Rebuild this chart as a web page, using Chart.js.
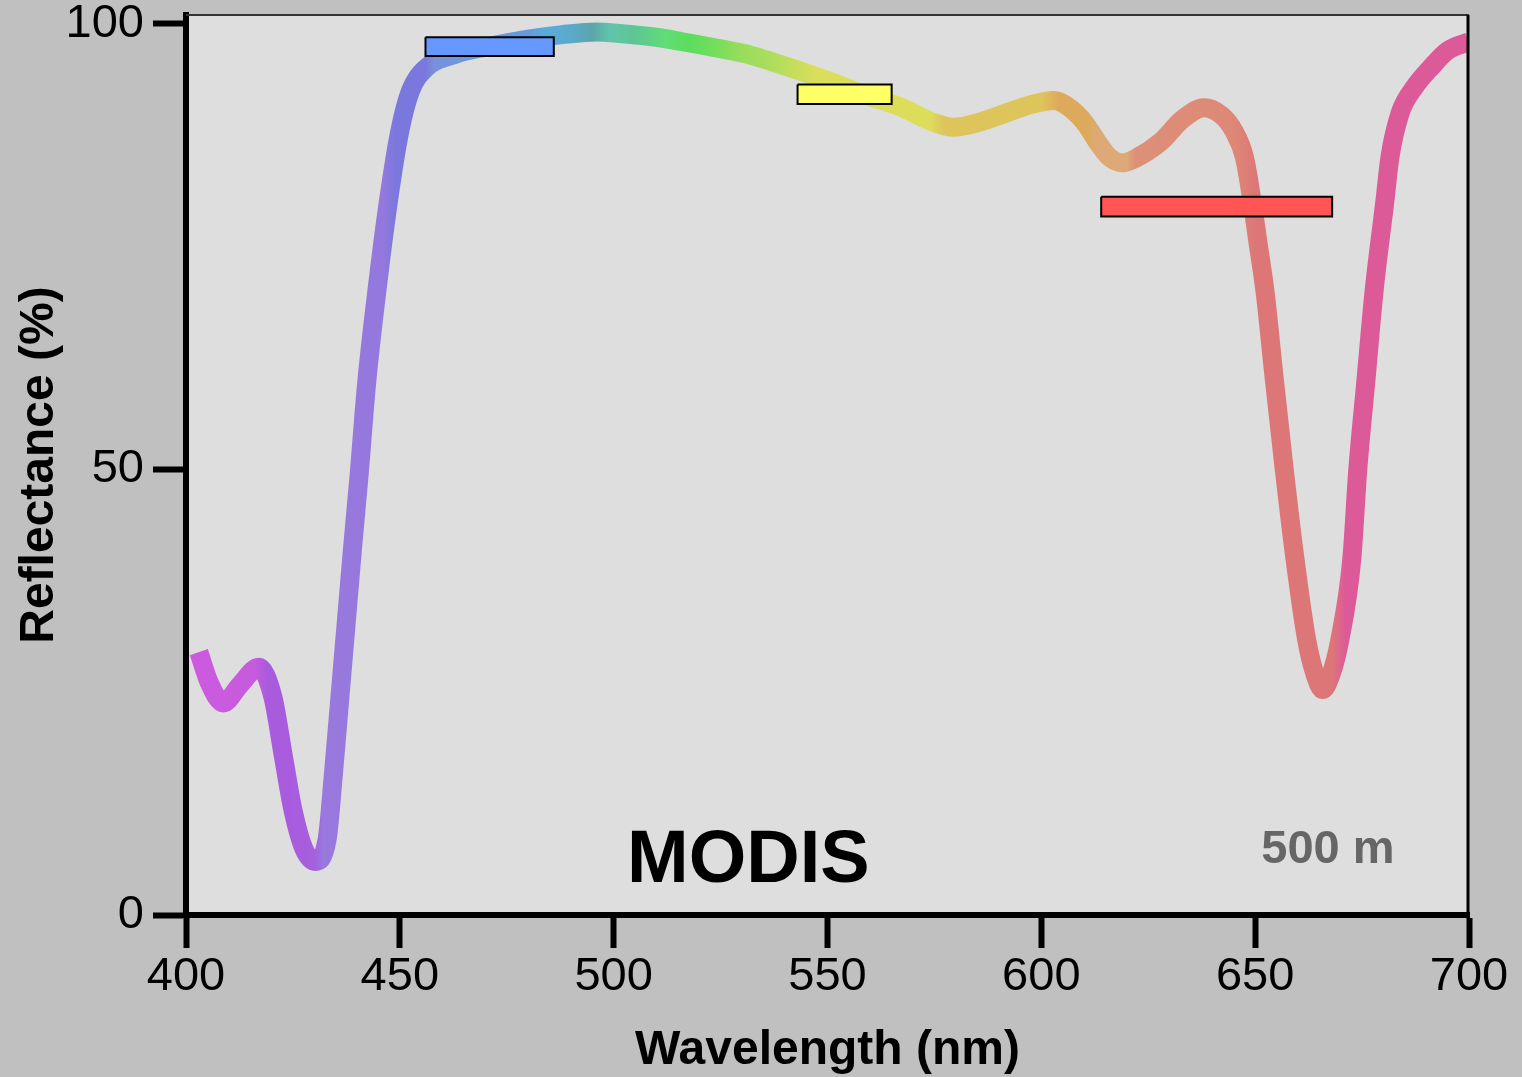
<!DOCTYPE html>
<html>
<head>
<meta charset="utf-8">
<title>MODIS reflectance</title>
<script src="https://cdn.jsdelivr.net/npm/chart.js@4.4.1/dist/chart.umd.min.js"></script>
<style>
    html, body { margin: 0; padding: 0; background: #c0c0c0; }
    canvas { display: block; }
</style>
</head>
<body>
<canvas id="myChart" width="1522" height="1077"></canvas>
<script>
// Reflectance curve (nm, %)
const wavelengths = [403, 405.5, 408.7, 412.6, 417, 420.3, 422.7, 425, 427.5, 430.2, 433, 434.5, 436, 437.5,
    439, 440.5, 442.2, 444.5, 447.3, 450, 452.5, 456, 463, 470, 480, 488, 496, 502, 510, 516, 524, 532, 538,
    545, 552, 559, 567, 575, 579.5, 585, 590, 598, 603, 606, 610, 613.5, 616, 619, 622, 628, 633, 638, 642,
    645, 647.5, 649.3, 650.8, 652.3, 654.5, 656.8, 659.3, 662, 664, 665.8, 667.6, 669.8, 672.6, 674, 675.9,
    677.8, 680.3, 681.5, 683.9, 687.4, 690.9, 695, 700];
const reflectance = [29.5, 26, 23.8, 25.8, 27.8, 24.5, 18, 11.8, 7.5, 6.0, 8.5, 16, 24.5, 33,
    41.5, 49.5, 59.5, 69.5, 80, 88, 92.5, 95, 96.6, 97.4, 98.3, 98.8, 99.1, 98.9, 98.5, 98.0, 97.3, 96.5, 95.6,
    94.5, 93.3, 92.0, 90.7, 88.9, 88.4, 88.9, 89.7, 91.0, 91.4, 90.8, 89.0, 86.5, 85.0, 84.4, 84.9, 86.8, 89.3, 90.6, 89.8,
    88.0, 85, 80, 75, 70, 60, 50, 40, 31, 27, 25.3, 26.8, 30.9, 40, 50, 60,
    70, 80, 85, 90, 93, 95, 97, 98.0];

// MODIS band boxes
const bandLabels = ['Band 3', 'Band 4', 'Band 1'];
const bandStart = [456, 543, 614];
const bandEnd = [486, 565, 668];
const bandTop = [98.5, 93.2, 80.6];
const bandBottom = [96.4, 91.0, 78.4];

const xTicks = [400, 450, 500, 550, 600, 650, 700];
const yTicks = [0, 50, 100];

const sensorName = 'MODIS';
const resolutionText = '500 m';

// styles
const bandColors = ['#6699ff', '#ffff66', '#ff5555'];
const spectrumStops = [400, 416, 419, 430, 432, 446, 449, 456, 458, 466, 480, 484, 490, 495, 499, 505, 512, 518,
    524, 530, 536, 542, 548, 574, 577, 600, 604, 611, 613, 620, 622, 645, 650, 668, 671, 700];
const spectrumColors = ['#cc5ade', '#c85ade', '#aa5add', '#a65fdd', '#9a78dd', '#9478dd', '#7a78dd', '#7a78dd',
    '#7a90dd', '#6a99dd', '#6699dd', '#5aaadd', '#5aaacc', '#5aa5aa', '#5fc5aa', '#5fc595', '#60dd77', '#5cdd5c',
    '#77dd5c', '#99dd5c', '#aadd5c', '#c5dd5c', '#dddd5c', '#dddd5c', '#ddc55c', '#ddc55c', '#ddaa5c', '#ddaa5c',
    '#ddaa77', '#ddaa77', '#dd9077', '#dd8877', '#dd7777', '#dd7777', '#dd5a99', '#dd5a99'];

const fontFamily = "'Liberation Sans', Arial, sans-serif";

// rainbow along the wavelength axis
function spectrumGradient(context) {
    const chart = context.chart;
    const { ctx, chartArea, scales } = chart;
    if (!chartArea) return '#888';
    const x0 = scales.x.getPixelForValue(400);
    const x1 = scales.x.getPixelForValue(700);
    const gradient = ctx.createLinearGradient(x0, 0, x1, 0);
    spectrumStops.forEach((w, i) => {
        gradient.addColorStop((w - 400) / 300, spectrumColors[i]);
    });
    return gradient;
}

const datasets = [
    {
        label: 'Reflectance',
        data: wavelengths.map((w, i) => ({ x: w, y: reflectance[i] })),
        borderColor: spectrumGradient,
        borderWidth: 19,
        pointRadius: 0,
        fill: false,
        cubicInterpolationMode: 'monotone',
        order: 2
    }
];

bandLabels.forEach((name, i) => {
    datasets.push({
        label: name,
        data: [
            { x: bandStart[i], y: bandTop[i] },
            { x: bandEnd[i], y: bandTop[i] },
            { x: bandEnd[i], y: bandBottom[i] },
            { x: bandStart[i], y: bandBottom[i] },
            { x: bandStart[i], y: bandTop[i] }
        ],
        borderColor: '#000',
        borderWidth: 2,
        borderJoinStyle: 'miter',
        backgroundColor: bandColors[i],
        fill: 'shape',
        tension: 0,
        pointRadius: 0,
        order: 1
    });
});

// backgrounds, frame and the two text labels
const decor = {
    id: 'decor',
    beforeDraw(chart) {
        const { ctx, chartArea } = chart;
        ctx.save();
        ctx.fillStyle = '#c0c0c0';
        ctx.fillRect(0, 0, chart.width, chart.height);
        ctx.fillStyle = '#dedede';
        ctx.fillRect(chartArea.left, chartArea.top, chartArea.right - chartArea.left, chartArea.bottom - chartArea.top);
        ctx.restore();
    },
    afterDraw(chart) {
        const { ctx, chartArea, scales } = chart;
        ctx.save();
        ctx.strokeStyle = '#333';
        ctx.lineWidth = 2;
        ctx.beginPath();
        ctx.moveTo(chartArea.left, chartArea.top);
        ctx.lineTo(chartArea.right, chartArea.top);
        ctx.stroke();
        ctx.strokeStyle = '#000';
        ctx.lineWidth = 3;
        ctx.beginPath();
        ctx.moveTo(chartArea.right - 1, chartArea.top);
        ctx.lineTo(chartArea.right - 1, chartArea.bottom);
        ctx.stroke();

        ctx.textAlign = 'center';
        ctx.textBaseline = 'alphabetic';
        ctx.fillStyle = '#000';
        ctx.font = 'bold 74px ' + fontFamily;
        ctx.fillText(sensorName, scales.x.getPixelForValue(531.5), scales.y.getPixelForValue(3.7));
        ctx.fillStyle = '#666';
        ctx.font = 'bold 47px ' + fontFamily;
        ctx.fillText(resolutionText, scales.x.getPixelForValue(667), scales.y.getPixelForValue(5.8));
        ctx.restore();
    }
};

const config = {
    type: 'line',
    data: { datasets: datasets },
    options: {
        responsive: false,
        animation: false,
        layout: { padding: { top: 15, right: 53, left: 0, bottom: 0 } },
        plugins: {
            legend: { display: false },
            tooltip: { enabled: false }
        },
        scales: {
            x: {
                type: 'linear',
                min: 400,
                max: 700,
                afterBuildTicks: scale => { scale.ticks = xTicks.map(v => ({ value: v })); },
                afterFit: scale => {
                    scale.height = 162;
                    scale.paddingLeft = 0;
                    scale.paddingRight = 0;
                },
                border: { display: true, color: '#000', width: 6 },
                grid: { display: true, drawOnChartArea: false, drawTicks: true, tickLength: 33, tickWidth: 6, tickColor: '#000' },
                ticks: { color: '#000', padding: 1, maxRotation: 0, font: { family: fontFamily, size: 47 } },
                title: {
                    display: true,
                    text: 'Wavelength (nm)',
                    color: '#000',
                    padding: { top: 0, bottom: 0 },
                    font: { family: fontFamily, size: 48, weight: 'bold', lineHeight: 1.1 }
                }
            },
            y: {
                type: 'linear',
                min: 0,
                max: 101,
                afterBuildTicks: scale => { scale.ticks = yTicks.map(v => ({ value: v })); },
                afterFit: scale => {
                    scale.width = 186;
                    scale.paddingTop = 0;
                    scale.paddingBottom = 0;
                },
                border: { display: true, color: '#000', width: 6 },
                grid: { display: true, drawOnChartArea: false, drawTicks: true, tickLength: 33, tickWidth: 6, tickColor: '#000' },
                ticks: { color: '#000', padding: 9, font: { family: fontFamily, size: 47 } },
                title: {
                    display: true,
                    text: 'Reflectance (%)',
                    color: '#000',
                    padding: { top: 11, bottom: 0 },
                    font: { family: fontFamily, size: 48, weight: 'bold' }
                }
            }
        }
    },
    plugins: [decor]
};

const ctx = document.getElementById('myChart').getContext('2d');
new Chart(ctx, config);
</script>
</body>
</html>
